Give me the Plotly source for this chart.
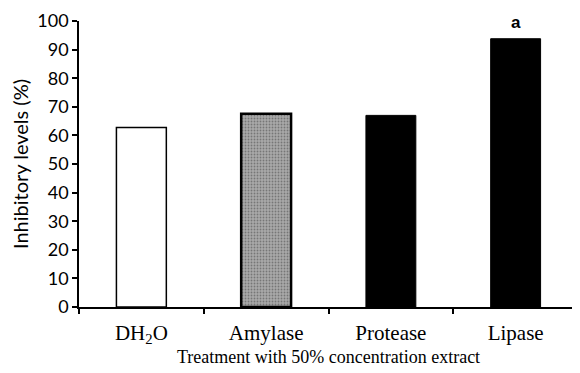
import plotly.graph_objects as go

categories = ["DH<sub>2</sub>O", "Amylase", "Protease", "Lipase"]
values = [62.8, 67.6, 67.0, 93.8]
sig_labels = ["", "", "", "a"]
fill_colors = ["#ffffff", "#a9a9a9", "#000000", "#000000"]
line_widths = [1.5, 2.5, 1, 1]

# page body has an 8px default margin; compensate so the plot lands where the reference has it
OFF = 8

fig = go.Figure()
fig.add_trace(go.Bar(
    x=categories, y=values,
    marker=dict(color=fill_colors, line=dict(color="#000000", width=line_widths),
                pattern=dict(shape=["", ".", "", ""], fgcolor="#d8d8d8", size=3, solidity=0.3)),
    width=0.4,
))

for c, v, s in zip(categories, values, sig_labels):
    if s:
        fig.add_annotation(x=c, y=v, text=s, showarrow=False, yanchor="bottom", yshift=5,
                           font=dict(family="Liberation Sans", size=17, color="#000000", weight="bold"))

fig.update_layout(
    width=580 - OFF, height=373 - OFF,
    margin=dict(l=79 - OFF, r=2, t=21 - OFF, b=66),
    plot_bgcolor="white", paper_bgcolor="white",
    showlegend=False,
    font=dict(family="Liberation Serif", color="#000000"),
)
fig.update_xaxes(
    type="category", automargin=False,
    range=[-0.5, 3.5],
    showline=True, linecolor="#000000", linewidth=1.5,
    ticks="outside", tickson="boundaries", ticklen=5, tickcolor="#000000", tickwidth=1.5,
    tickfont=dict(family="Liberation Serif", size=21, color="#000000"),
    ticklabelstandoff=6,
    title=dict(text="Treatment with 50% concentration extract",
               font=dict(family="Liberation Serif", size=18, color="#000000"), standoff=4),
    showgrid=False,
)
fig.update_yaxes(
    range=[0, 100], dtick=10, automargin=False,
    showline=True, linecolor="#000000", linewidth=1.5,
    ticks="outside", ticklen=5, tickcolor="#000000", tickwidth=1.5,
    tickfont=dict(family="Lato", size=18, color="#000000"),
    title=dict(text="Inhibitory levels (%)",
               font=dict(family="Lato", size=20, color="#000000"), standoff=8),
    showgrid=False, zeroline=False,
)

fig.write_html("out.html")
